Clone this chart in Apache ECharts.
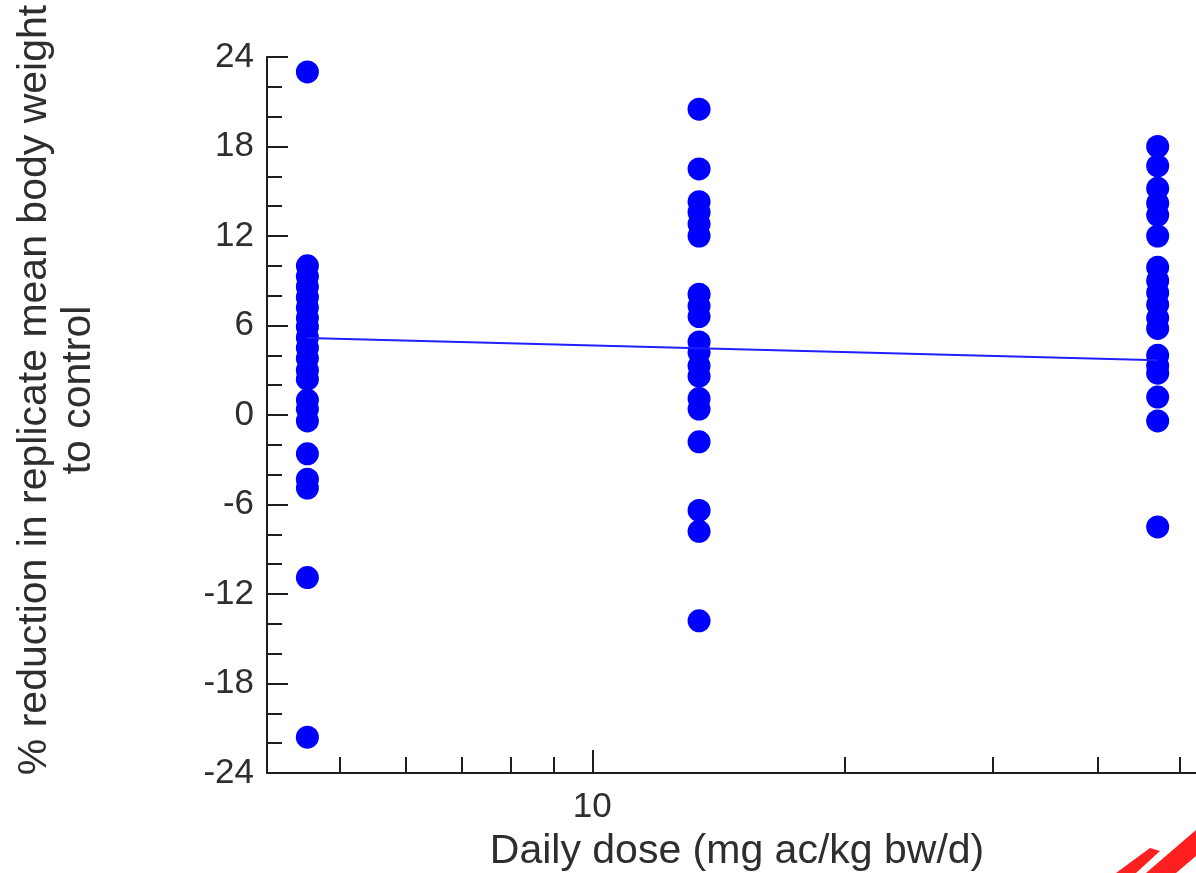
<!DOCTYPE html>
<html>
<head>
<meta charset="utf-8">
<script src="https://cdn.jsdelivr.net/npm/echarts@6/dist/echarts.min.js"></script>
<style>
  html, body { margin: 0; padding: 0; background: #ffffff; }
  #chart { width: 1196px; height: 873px; }
</style>
</head>
<body>
<div id="chart"></div>
<script>
// Daily dose of each treatment group (mg ac/kg bw/d)
const doses = [4.58, 13.4, 47.1];

// % reduction in replicate mean body weight relative to control, per replicate
const lowDoseValues = [23.0, 10.0, 9.3, 8.6, 7.9, 7.2, 6.5, 5.9, 5.2, 4.5, 3.8, 3.0, 2.4,
                       1.0, 0.4, -0.4, -2.6, -4.3, -4.9, -10.9, -21.6];
const midDoseValues = [20.5, 16.5, 14.3, 13.6, 12.8, 12.0, 8.1, 7.3, 6.6, 4.9, 4.2, 3.3,
                       2.6, 1.1, 0.4, -1.8, -6.4, -7.8, -13.8];
const highDoseValues = [18.0, 16.7, 15.2, 14.2, 13.4, 12.0, 9.9, 9.0, 8.2, 7.4, 6.5, 5.8,
                        4.0, 3.3, 2.8, 1.2, -0.4, -7.5];

// Fitted dose-response line evaluated at each dose
const fittedValues = [5.16, 4.47, 3.67];

// Axis ticks
const xTickValues = [5, 6, 7, 8, 9, 10, 20, 30, 40, 50];
const xMajorTickValues = [10];
const xLabelValues = [10];

const xTitle = 'Daily dose (mg ac/kg bw/d)';
const yTitle = '% reduction in replicate mean body weight\nto control';

const groups = [lowDoseValues, midDoseValues, highDoseValues];
const scatterData = [];
groups.forEach((vals, i) => vals.forEach(v => scatterData.push([doses[i], v])));
const lineData = doses.map((d, i) => [d, fittedValues[i]]);

const FONT = '"Liberation Sans", Arial, sans-serif';
const AXIS_COLOR = '#1e1e1e';
const TEXT_COLOR = '#2e2e2e';

const chart = echarts.init(document.getElementById('chart'), null, { renderer: 'canvas' });

chart.setOption({
  backgroundColor: '#ffffff',
  animation: false,
  grid: {
    left: 267,
    top: 57,
    bottom: 100,
    right: -50,
    containLabel: false,
    outerBoundsMode: 'none'
  },
  xAxis: [
    {
      type: 'log',
      logBase: 10,
      min: 4.1,
      max: 60,
      position: 'bottom',
      axisLine: { show: true, onZero: false, lineStyle: { color: AXIS_COLOR, width: 2 } },
      axisTick: {
        show: true,
        inside: true,
        length: 16,
        customValues: xTickValues,
        lineStyle: { color: AXIS_COLOR, width: 2 }
      },
      axisLabel: {
        show: true,
        customValues: xLabelValues,
        margin: 17,
        fontSize: 35,
        fontFamily: FONT,
        color: TEXT_COLOR
      },
      splitLine: { show: false },
      minorTick: { show: false },
      minorSplitLine: { show: false }
    },
    {
      // longer tick at the decade mark
      type: 'log',
      logBase: 10,
      min: 4.1,
      max: 60,
      position: 'bottom',
      axisLine: { show: false, onZero: false },
      axisTick: {
        show: true,
        inside: true,
        length: 23,
        customValues: xMajorTickValues,
        lineStyle: { color: AXIS_COLOR, width: 2 }
      },
      axisLabel: { show: false },
      splitLine: { show: false }
    }
  ],
  yAxis: {
    type: 'value',
    min: -24,
    max: 24,
    interval: 6,
    axisLine: { show: true, onZero: false, lineStyle: { color: AXIS_COLOR, width: 2 } },
    axisTick: {
      show: true,
      inside: true,
      length: 21,
      lineStyle: { color: AXIS_COLOR, width: 2 }
    },
    minorTick: {
      show: true,
      splitNumber: 3,
      length: 15,
      lineStyle: { color: AXIS_COLOR, width: 2 }
    },
    axisLabel: {
      margin: 13,
      fontSize: 35,
      fontFamily: FONT,
      color: TEXT_COLOR
    },
    splitLine: { show: false },
    minorSplitLine: { show: false }
  },
  series: [
    {
      type: 'line',
      xAxisIndex: 0,
      data: lineData,
      symbol: 'none',
      lineStyle: { color: '#1f1fff', width: 2 },
      z: 3
    },
    {
      type: 'scatter',
      xAxisIndex: 0,
      data: scatterData,
      symbol: 'circle',
      symbolSize: 23,
      itemStyle: { color: '#0000ff', opacity: 1 },
      z: 2
    }
  ],
  graphic: [
    {
      type: 'text',
      x: 737,
      y: 852,
      style: {
        text: xTitle,
        font: '41px ' + FONT,
        fill: TEXT_COLOR,
        align: 'center',
        verticalAlign: 'middle'
      }
    },
    {
      type: 'text',
      x: 57,
      y: 390,
      rotation: Math.PI / 2,
      style: {
        text: yTitle,
        font: '41px ' + FONT,
        lineHeight: 44,
        fill: TEXT_COLOR,
        align: 'center',
        verticalAlign: 'middle'
      }
    },
    {
      type: 'polygon',
      shape: { points: [[1116, 873], [1150, 848], [1160, 851], [1136, 873]] },
      style: { fill: '#ff1f1f' }
    },
    {
      type: 'polygon',
      shape: { points: [[1146, 873], [1196, 830], [1196, 856], [1176, 873]] },
      style: { fill: '#ff1f1f' }
    }
  ]
});
</script>
</body>
</html>
